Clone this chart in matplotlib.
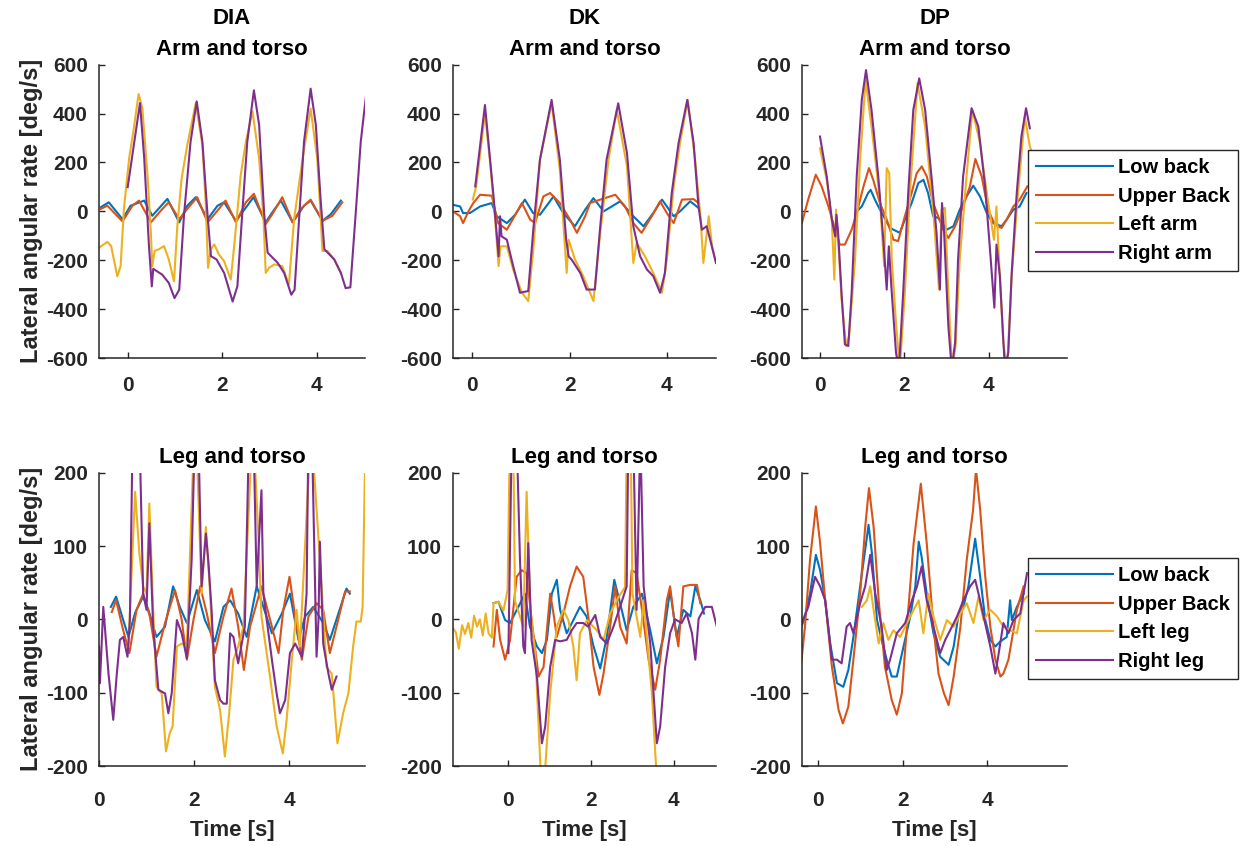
import matplotlib
matplotlib.use("Agg")
import matplotlib.pyplot as plt

plt.rcParams['font.family'] = ['Liberation Sans', 'DejaVu Sans']
plt.rcParams['font.weight'] = 'bold'
plt.rcParams['axes.unicode_minus'] = False

# MATLAB default line colours: low back, upper back, left limb, right limb
COLORS = ['#0072BD', '#D95319', '#EDB120', '#7E2F8E']
TEXT = '#262626'

# ---- DIA, arm and torso (time [s], rate [deg/s]) ----
dia_arm_low = [(-0.57, 17), (-0.40, 37), (-0.11, -32), (0.06, 23), (0.35, 44), (0.52, -18), (0.84, 51),
               (1.09, -45), (1.26, 23), (1.44, 58), (1.69, -32), (1.90, 23), (2.04, 37), (2.29, -39),
               (2.53, 23), (2.66, 58), (2.92, -45), (3.06, -4), (3.24, 44), (3.49, -45), (3.73, 23),
               (3.87, 44), (4.12, -39), (4.30, -11), (4.51, 44)]
dia_arm_up = [(-0.57, 10), (-0.43, 23), (-0.11, -41), (0.10, 23), (0.24, 44), (0.49, -45), (0.70, 3),
              (0.87, 37), (1.09, -32), (1.26, 10), (1.47, 58), (1.69, -45), (1.90, 3), (2.07, 44),
              (2.29, -45), (2.50, 37), (2.67, 72), (2.92, -52), (3.06, -11), (3.27, 58), (3.49, -45),
              (3.66, 10), (3.87, 48), (4.12, -39), (4.33, -18), (4.54, 37)]
dia_arm_left = [(-0.61, -149), (-0.43, -125), (-0.35, -142), (-0.22, -266), (-0.15, -224), (-0.08, 10),
                (0.03, 216), (0.13, 340), (0.23, 480), (0.31, 422), (0.42, 147), (0.49, -87), (0.52, -224),
                (0.57, -162), (0.66, -155), (0.77, -142), (0.87, -197), (0.98, -286), (1.05, -59),
                (1.14, 133), (1.26, 271), (1.44, 443), (1.58, 271), (1.65, 37), (1.70, -231), (1.76, -155),
                (1.83, -135), (1.93, -176), (2.04, -204), (2.18, -279), (2.26, -128), (2.39, 147),
                (2.50, 285), (2.64, 409), (2.78, 216), (2.87, -18), (2.92, -252), (2.99, -231),
                (3.10, -217), (3.27, -224), (3.41, -300), (3.52, -32), (3.70, 216), (3.87, 420),
                (4.01, 216), (4.08, -18), (4.12, -162), (4.23, -162), (4.37, -197), (4.51, -252)]
dia_arm_right = [(0.00, 99), (0.26, 443), (0.35, 216), (0.45, -142), (0.51, -307), (0.54, -235), (0.73, -259),
                 (0.87, -293), (0.99, -355), (1.09, -321), (1.19, -18), (1.33, 285), (1.46, 450), (1.58, 285),
                 (1.69, -18), (1.76, -183), (1.88, -197), (2.04, -252), (2.22, -369), (2.32, -307),
                 (2.43, 10), (2.53, 285), (2.67, 495), (2.78, 354), (2.89, -18), (2.96, -169), (3.17, -210),
                 (3.31, -252), (3.46, -341), (3.53, -321), (3.63, -18), (3.73, 285), (3.87, 502),
                 (3.98, 354), (4.08, 51), (4.16, -155), (4.37, -197), (4.51, -252), (4.61, -314),
                 (4.71, -311), (4.83, 10), (4.93, 285), (5.04, 470)]

# ---- DK, arm and torso ----
dk_arm_low = [(-0.40, 27), (-0.25, 20), (-0.19, -7), (-0.05, -7), (0.16, 20), (0.40, 34), (0.50, -20),
              (0.71, -48), (0.88, -14), (1.08, 48), (1.25, -7), (1.39, -14), (1.67, 61), (1.87, -7),
              (2.11, -61), (2.32, 7), (2.49, 54), (2.70, 0), (3.04, 41), (3.31, -20), (3.52, -61),
              (3.72, -7), (3.90, 48), (4.14, -20), (4.27, 0), (4.48, 41), (4.65, 14)]
dk_arm_up = [(-0.40, 0), (-0.25, -20), (-0.19, -48), (-0.08, 0), (0.02, 34), (0.16, 68), (0.40, 64),
             (0.53, -48), (0.71, -75), (1.02, 34), (1.19, -34), (1.29, -48), (1.46, 61), (1.60, 75),
             (1.80, 34), (2.01, -34), (2.15, -88), (2.32, -20), (2.42, 34), (2.63, 48), (2.94, 68),
             (3.14, 20), (3.31, -48), (3.48, -88), (3.69, -20), (3.86, 41), (4.00, -7), (4.14, -48),
             (4.31, 48), (4.55, 50), (4.65, 34)]
dk_arm_left = [(0.01, 48), (0.08, 102), (0.26, 401), (0.36, 211), (0.47, -34), (0.54, -224), (0.58, -143),
               (0.71, -143), (0.84, -238), (1.02, -333), (1.15, -367), (1.26, -143), (1.39, 211),
               (1.63, 442), (1.80, 170), (1.94, -252), (1.98, -116), (2.11, -197), (2.28, -265),
               (2.49, -367), (2.63, -88), (2.80, 211), (2.97, 415), (3.18, 184), (3.31, -211),
               (3.38, -129), (3.55, -184), (3.72, -252), (3.90, -333), (4.00, -197), (4.14, 102),
               (4.27, 279), (4.43, 456), (4.58, 211), (4.69, -20), (4.75, -211), (4.86, -20),
               (4.93, -143), (5.01, -211)]
dk_arm_right = [(0.06, 102), (0.26, 435), (0.43, 75), (0.54, -184), (0.57, -20), (0.60, -102), (0.71, -116),
                (0.84, -224), (0.98, -333), (1.15, -326), (1.26, -61), (1.39, 211), (1.63, 456),
                (1.80, 211), (1.93, -116), (1.98, -184), (2.04, -197), (2.22, -252), (2.35, -320),
                (2.52, -320), (2.63, -61), (2.76, 211), (3.00, 442), (3.18, 238), (3.31, -61),
                (3.45, -184), (3.59, -238), (3.72, -265), (3.86, -333), (3.96, -252), (4.10, 75),
                (4.24, 279), (4.42, 456), (4.55, 279), (4.65, 20), (4.72, -75), (4.82, -61), (5.01, -211)]

# ---- DP, arm and torso ----
dp_arm_low = [(0.87, 0), (0.99, 20), (1.14, 75), (1.20, 88), (1.30, 48), (1.42, 7), (1.66, -68), (1.89, -88),
              (2.01, -34), (2.17, 34), (2.33, 116), (2.45, 129), (2.56, 75), (2.68, -20), (2.80, -27),
              (3.00, -75), (3.16, -61), (3.31, 7), (3.47, 61), (3.63, 105), (3.79, 61), (3.95, -7),
              (4.10, -48), (4.30, -61), (4.42, -34), (4.58, 7), (4.73, 20), (4.89, 75)]
dp_arm_up = [(-0.43, -48), (-0.28, 48), (-0.10, 150), (0.04, 102), (0.20, 20), (0.36, -75), (0.47, -136),
             (0.59, -136), (0.75, -75), (0.87, -7), (1.03, 102), (1.16, 177), (1.26, 129), (1.42, 34),
             (1.58, -34), (1.74, -116), (1.85, -122), (2.01, -20), (2.17, 75), (2.29, 156), (2.41, 184),
             (2.53, 143), (2.68, 34), (2.92, -75), (3.04, -109), (3.20, -61), (3.39, 20), (3.55, 102),
             (3.68, 214), (3.83, 143), (3.98, 7), (4.14, -54), (4.30, -68), (4.42, -34), (4.58, 20),
             (4.73, 48), (4.91, 102)]
dp_arm_left = [(0.00, 258), (0.16, 129), (0.28, -34), (0.34, -279), (0.38, 7), (0.43, -116), (0.51, -360),
               (0.62, -551), (0.69, -510), (0.83, -197), (0.95, 211), (1.08, 537), (1.22, 347), (1.42, 48),
               (1.52, -224), (1.58, 177), (1.64, 156), (1.70, -197), (1.80, -456), (1.89, -646),
               (2.01, -333), (2.13, 75), (2.31, 524), (2.49, 347), (2.68, 7), (2.82, -320), (2.88, 7),
               (2.96, 14), (3.04, -333), (3.13, -646), (3.21, -551), (3.31, -197), (3.47, 143),
               (3.61, 415), (3.79, 279), (3.95, 75), (4.12, -116), (4.18, 20), (4.22, -129), (4.34, -537),
               (4.43, -646), (4.54, -265), (4.69, 75), (4.85, 388), (4.97, 265), (5.05, 230)]
dp_arm_right = [(0.00, 306), (0.16, 143), (0.28, -34), (0.36, -102), (0.39, -14), (0.43, -88), (0.51, -333),
                (0.59, -544), (0.67, -551), (0.75, -333), (0.87, 143), (0.99, 456), (1.09, 578), (1.22, 415),
                (1.38, 143), (1.50, -116), (1.58, -320), (1.63, -143), (1.70, -333), (1.80, -578),
                (1.87, -646), (1.97, -333), (2.09, 75), (2.21, 415), (2.35, 544), (2.49, 415), (2.64, 143),
                (2.76, -88), (2.84, -320), (2.89, 34), (2.94, -88), (3.04, -469), (3.12, -646),
                (3.20, -537), (3.27, -197), (3.39, 143), (3.59, 422), (3.75, 347), (3.91, 102),
                (4.02, -143), (4.13, -394), (4.18, -136), (4.26, -265), (4.38, -646), (4.46, -578),
                (4.54, -252), (4.66, 75), (4.77, 306), (4.88, 422), (4.97, 340)]

# ---- DIA, leg and torso ----
dia_leg_low = [(0.25, 17), (0.36, 31), (0.51, -1), (0.62, -24), (0.76, 9), (0.93, 31), (1.04, 13),
               (1.21, -24), (1.39, -10), (1.56, 45), (1.70, 17), (1.85, -5), (2.06, 40), (2.23, -1),
               (2.44, -30), (2.62, 17), (2.76, 26), (2.93, 8), (3.11, -24), (3.32, 45), (3.46, 17),
               (3.64, -19), (3.85, 8), (4.02, 35), (4.20, -28), (4.34, 4), (4.51, 17), (4.72, -5),
               (4.86, -28), (5.04, 8), (5.21, 42), (5.28, 35)]
dia_leg_up = [(0.27, 10), (0.36, 26), (0.51, -15), (0.64, -46), (0.79, 13), (0.93, 35), (1.07, 4),
              (1.21, -51), (1.39, -5), (1.60, 40), (1.74, 0), (1.85, -55), (1.99, 0), (2.13, 45),
              (2.27, 8), (2.44, -46), (2.62, 4), (2.79, 42), (2.93, -10), (3.05, -69), (3.18, -10),
              (3.42, 45), (3.64, -10), (3.78, -46), (3.88, 13), (4.01, 58), (4.13, 4), (4.27, -55),
              (4.41, 4), (4.58, 22), (4.72, 13), (4.86, -46), (5.00, -10), (5.18, 38), (5.28, 38)]
dia_leg_left = [(0.62, -37), (0.76, 174), (0.85, 90), (0.93, 45), (1.00, 35), (1.06, 158), (1.14, 13),
                (1.21, -92), (1.32, -101), (1.41, -180), (1.49, -155), (1.55, -146), (1.64, -37),
                (1.74, -33), (1.85, -37), (1.99, 230), (2.06, 230), (2.16, 35), (2.25, 126), (2.33, 45),
                (2.44, -92), (2.55, -124), (2.65, -187), (2.74, -128), (2.83, -55), (2.93, -37),
                (3.04, -10), (3.21, 230), (3.27, 230), (3.35, 122), (3.42, 4), (3.60, -78), (3.74, -146),
                (3.87, -183), (3.95, -137), (4.06, -55), (4.16, 13), (4.23, -37), (4.44, 230), (4.50, 230),
                (4.65, 81), (4.79, -65), (4.90, -74), (5.02, -169), (5.14, -128), (5.25, -101),
                (5.35, -37), (5.42, -3), (5.51, -3), (5.55, 17), (5.60, 210)]
dia_leg_right = [(0.00, -37), (0.02, -87), (0.09, 17), (0.20, -74), (0.30, -137), (0.37, -78), (0.44, -28),
                 (0.51, -24), (0.60, -51), (0.65, -1), (0.71, 260), (0.85, 260), (0.93, 35), (1.00, 13),
                 (1.06, 131), (1.14, -10), (1.25, -96), (1.39, -101), (1.46, -128), (1.53, -101),
                 (1.64, -1), (1.74, -19), (1.85, -53), (1.95, 81), (2.02, 260), (2.09, 260), (2.16, 45),
                 (2.25, 117), (2.30, 81), (2.37, 13), (2.44, -83), (2.55, -110), (2.62, -115),
                 (2.69, -115), (2.76, -19), (2.83, -24), (2.93, -60), (3.07, -10), (3.16, 260),
                 (3.25, 260), (3.32, 45), (3.42, 176), (3.46, 35), (3.64, -55), (3.74, -101),
                 (3.81, -128), (3.92, -110), (4.02, -46), (4.13, -33), (4.27, -51), (4.37, 35),
                 (4.41, 260), (4.48, 260), (4.58, -51), (4.62, -1), (4.65, 106), (4.72, -33),
                 (4.83, -74), (4.90, -96), (5.00, -78)]

# ---- DK, leg and torso ----
dk_leg_low = [(-0.36, 22), (-0.24, 24), (-0.08, -1), (0.04, -5), (0.24, 17), (0.40, 35), (0.52, -10),
              (0.69, -37), (0.81, -46), (0.93, -28), (1.05, 35), (1.17, 54), (1.25, 13), (1.41, -19),
              (1.57, -1), (1.73, 17), (1.89, 4), (2.06, -37), (2.22, -67), (2.38, -24), (2.56, 54),
              (2.70, 22), (2.86, -15), (3.02, 17), (3.23, 35), (3.43, -15), (3.59, -60), (3.75, -24),
              (3.91, 40), (4.07, -24), (4.23, 13), (4.40, 4), (4.52, 45), (4.64, 26), (4.73, 8)]
dk_leg_up = [(-0.36, -37), (-0.28, 13), (-0.20, -28), (-0.08, -55), (0.04, -28), (0.20, 58), (0.32, 67),
             (0.44, 63), (0.56, 0), (0.73, -78), (0.85, -65), (1.01, 35), (1.09, 8), (1.17, -24),
             (1.33, 8), (1.49, 45), (1.65, 72), (1.81, 58), (1.94, 0), (2.06, -65), (2.20, -103),
             (2.30, -74), (2.46, -10), (2.58, 45), (2.70, -10), (2.86, -33), (2.98, 67), (3.10, 63),
             (3.23, 13), (3.39, -55), (3.55, -96), (3.67, -55), (3.83, 26), (3.91, 45), (4.03, -10),
             (4.11, -37), (4.23, 45), (4.40, 47), (4.56, 47), (4.64, 22)]
dk_leg_left = [(-1.34, -12), (-1.27, -18), (-1.20, -40), (-1.12, -8), (-1.05, -20), (-0.97, -5), (-0.90, -25),
               (-0.83, 5), (-0.76, -10), (-0.69, 0), (-0.62, -22), (-0.55, 8), (-0.48, -19), (-0.40, -25),
               (-0.36, 22), (-0.24, 24), (-0.12, 12), (-0.02, 40), (0.03, 230), (0.12, 230), (0.16, 25),
               (0.36, -10), (0.44, 174), (0.53, 13), (0.65, -46), (0.79, -220), (0.87, -220), (1.01, -101),
               (1.17, -10), (1.33, 13), (1.45, -1), (1.57, -37), (1.65, -83), (1.73, -19), (1.90, -1),
               (2.14, -15), (2.30, -28), (2.46, 8), (2.66, 30), (2.82, 44), (2.86, 230), (2.96, 230),
               (3.00, 35), (3.19, -24), (3.27, 26), (3.47, -101), (3.59, -220)]
dk_leg_right = [(0.00, -46), (0.08, 250), (0.20, 250), (0.28, 81), (0.36, -37), (0.40, -46), (0.48, 104),
                (0.56, -28), (0.69, -78), (0.81, -169), (0.89, -146), (1.01, -65), (1.13, -28),
                (1.25, -30), (1.41, -28), (1.53, -15), (1.65, -5), (1.81, -5), (1.93, -10), (2.10, 6),
                (2.22, -24), (2.38, -33), (2.54, -10), (2.70, 17), (2.86, 45), (2.90, 250), (3.02, 250),
                (3.10, 13), (3.19, 250), (3.27, 45), (3.43, -33), (3.51, -101), (3.59, -169),
                (3.67, -146), (3.79, -65), (3.91, -19), (4.03, 0), (4.19, -5), (4.31, 8), (4.44, -19),
                (4.52, -55), (4.60, 1), (4.76, 17), (4.92, 17), (5.04, -10)]

# ---- DP, leg and torso ----
dp_leg_low = [(-0.40, -10), (-0.32, 4), (-0.20, 35), (-0.06, 88), (0.04, 67), (0.16, 26), (0.28, -33),
              (0.44, -87), (0.59, -92), (0.71, -69), (0.83, -24), (0.99, 45), (1.11, 95), (1.19, 129),
              (1.27, 90), (1.39, -1), (1.50, -28), (1.62, -55), (1.74, -78), (1.86, -78), (2.02, -37),
              (2.18, 4), (2.30, 45), (2.38, 106), (2.45, 85), (2.57, 35), (2.73, -19), (2.89, -51),
              (3.09, -62), (3.21, -37), (3.33, 8), (3.44, 17), (3.56, 45), (3.72, 110), (3.84, 58),
              (3.96, -1), (4.08, -28), (4.20, -37), (4.32, -30), (4.47, -24), (4.55, 26), (4.59, -1),
              (4.71, 17), (4.87, 35)]
dp_leg_up = [(-0.40, -55), (-0.32, -10), (-0.20, 81), (-0.06, 154), (0.04, 104), (0.16, 26), (0.32, -65),
             (0.48, -124), (0.58, -142), (0.71, -119), (0.83, -55), (0.99, 35), (1.11, 126), (1.20, 179),
             (1.31, 126), (1.43, 26), (1.58, -65), (1.74, -110), (1.86, -130), (1.98, -101), (2.10, -10),
             (2.26, 104), (2.43, 185), (2.57, 104), (2.73, -10), (2.85, -74), (2.98, -101), (3.09, -117),
             (3.21, -78), (3.37, -10), (3.52, 81), (3.67, 149), (3.74, 205), (3.84, 149), (3.96, 58),
             (4.08, -10), (4.20, -55), (4.32, -78), (4.39, -74), (4.51, -55), (4.59, -28), (4.71, 13),
             (4.87, 45)]
dp_leg_left = [(1.03, 17), (1.15, 26), (1.23, 45), (1.31, 13), (1.43, -33), (1.54, -5), (1.66, -28),
               (1.78, -15), (1.94, -24), (2.10, -5), (2.26, 13), (2.38, 26), (2.49, -19), (2.61, 35),
               (2.73, 4), (2.89, -28), (3.05, -1), (3.21, -10), (3.37, 8), (3.52, 22), (3.68, -5),
               (3.80, 31), (3.92, -1), (4.08, 13), (4.24, 4), (4.39, -10), (4.55, -15), (4.71, -19),
               (4.87, 26), (4.95, 31)]
dp_leg_right = [(-0.40, -5), (-0.24, 17), (-0.08, 58), (0.04, 45), (0.16, 26), (0.32, -55), (0.44, -55),
                (0.55, -60), (0.67, -10), (0.75, -5), (0.83, -19), (0.99, 22), (1.11, 45), (1.23, 88),
                (1.35, 35), (1.50, -10), (1.62, -69), (1.70, -55), (1.86, -19), (2.06, -5), (2.22, 26),
                (2.34, 45), (2.45, 72), (2.57, 26), (2.73, -10), (2.89, -46), (3.01, -28), (3.17, -10),
                (3.29, 4), (3.44, 26), (3.60, 45), (3.72, 54), (3.80, 35), (3.92, 4), (4.08, -37),
                (4.20, -74), (4.28, -46), (4.39, -5), (4.51, -19), (4.63, -1), (4.79, 8), (4.95, 63)]

arm_labels = ['Low back', 'Upper Back', 'Left arm', 'Right arm']
leg_labels = ['Low back', 'Upper Back', 'Left leg', 'Right leg']
subjects = ['DIA', 'DK', 'DP']

panels = [
    # row, col, curves, xlim
    (0, 0, [dia_arm_low, dia_arm_up, dia_arm_left, dia_arm_right], (-0.607, 5.02)),
    (0, 1, [dk_arm_low, dk_arm_up, dk_arm_left, dk_arm_right], (-0.397, 5.01)),
    (0, 2, [dp_arm_low, dp_arm_up, dp_arm_left, dp_arm_right], (-0.426, 5.85)),
    (1, 0, [dia_leg_low, dia_leg_up, dia_leg_left, dia_leg_right], (0.0, 5.6)),
    (1, 1, [dk_leg_low, dk_leg_up, dk_leg_left, dk_leg_right], (-1.34, 5.02)),
    (1, 2, [dp_leg_low, dp_leg_up, dp_leg_left, dp_leg_right], (-0.39, 5.9)),
]

W, H = 1248, 846
fig = plt.figure(figsize=(W / 100, H / 100), dpi=100)

col_px = [(99, 266), (453, 263), (802, 265)]
row_px = [(64.7, 358), (472.7, 766)]

for row, col, curves, xlim in panels:
    left, width = col_px[col]
    top, bottom = row_px[row]
    ax = fig.add_axes([left / W, 1 - bottom / H, width / W, (bottom - top) / H])
    labels = arm_labels if row == 0 else leg_labels
    for pts, c, lab in zip(curves, COLORS, labels):
        t = [p[0] for p in pts]
        v = [p[1] for p in pts]
        ax.plot(t, v, color=c, lw=1.5, label=lab)
    ax.set_xlim(*xlim)
    if row == 0:
        ax.set_ylim(-600, 600)
        ax.set_yticks(range(-600, 601, 200))
        ax.set_title(subjects[col] + '\nArm and torso', fontsize=16, fontweight='bold',
                     linespacing=1.6, pad=7)
        xpad = 13
    else:
        ax.set_ylim(-200, 200)
        ax.set_yticks(range(-200, 201, 100))
        ax.set_title('Leg and torso', fontsize=16, fontweight='bold', pad=7)
        xpad = 18
    ax.set_xticks([0, 2, 4])
    if row == 1:
        ax.set_xlabel('Time [s]', fontsize=16, fontweight='bold', color=TEXT, labelpad=7)
    if col == 0:
        ax.set_ylabel('Lateral angular rate [deg/s]', fontsize=17, fontweight='bold', color=TEXT,
                      labelpad=2)
    for s in ['top', 'right']:
        ax.spines[s].set_visible(False)
    for s in ['left', 'bottom']:
        ax.spines[s].set_color(TEXT)
        ax.spines[s].set_linewidth(1.1)
    ax.tick_params(direction='in', length=4, width=1, colors=TEXT, labelsize=15)
    ax.tick_params(axis='x', pad=xpad)
    ax.tick_params(axis='y', pad=8)
    for lbl in ax.get_xticklabels() + ax.get_yticklabels():
        lbl.set_fontweight('bold')
    if col == 2:
        leg_top = 150 if row == 0 else 558
        ax.legend(loc='upper left', bbox_to_anchor=(1028 / W, 1 - leg_top / H),
                  bbox_transform=fig.transFigure, borderaxespad=0,
                  handlelength=3.8, handletextpad=0.25, labelspacing=0.48, borderpad=0.4,
                  fancybox=False, framealpha=1, edgecolor='#262626',
                  prop={'weight': 'bold', 'size': 14.5})

fig.savefig('out.png', dpi=100)
